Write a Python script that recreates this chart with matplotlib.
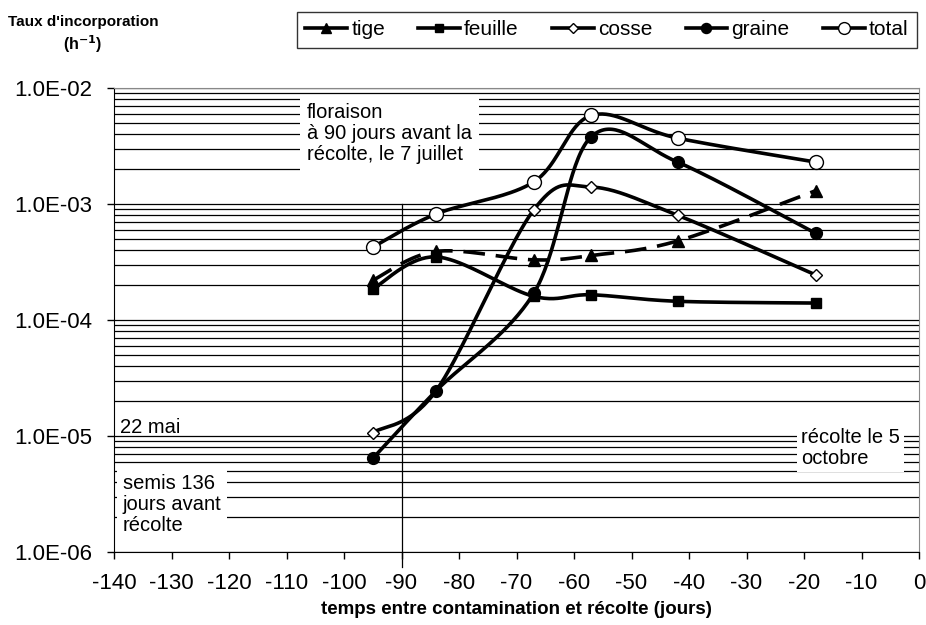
import numpy as np
import matplotlib
matplotlib.use("Agg")
import matplotlib.pyplot as plt
from matplotlib.lines import Line2D
from matplotlib.ticker import FixedLocator, FuncFormatter, LogLocator, NullFormatter

plt.rcParams['font.family'] = ['Liberation Sans', 'DejaVu Sans']
plt.rcParams['axes.unicode_minus'] = False

# ---- data ----
jours = [-95, -84, -67, -57, -42, -18]
tige = [2.2e-4, 3.9e-4, 3.3e-4, 3.6e-4, 4.8e-4, 1.3e-3]
feuille = [1.85e-4, 3.5e-4, 1.6e-4, 1.65e-4, 1.45e-4, 1.4e-4]
cosse = [1.07e-5, 2.45e-5, 8.9e-4, 1.4e-3, 8.0e-4, 2.45e-4]
graine = [6.4e-6, 2.45e-5, 1.7e-4, 3.8e-3, 2.3e-3, 5.6e-4]
total = [4.25e-4, 8.2e-4, 1.55e-3, 5.8e-3, 3.7e-3, 2.3e-3]
noms = ['tige', 'feuille', 'cosse', 'graine', 'total']
xticks = list(range(-140, 1, 10))
yticks = [1e-6, 1e-5, 1e-4, 1e-3, 1e-2]

# pixel scale used for Excel-like smoothing
SX, SY = 5.75, 116.0

def smooth(x, y, n=40):
    px = np.array(x, float) * SX
    py = np.log10(np.array(y, float)) * SY
    P = np.column_stack([px, py])
    P = np.vstack([P[0], P, P[-1]])
    out = []
    for i in range(1, len(P) - 2):
        p0, p1, p2, p3 = P[i - 1], P[i], P[i + 1], P[i + 2]
        c1 = p1 + (p2 - p0) / 6.0
        c2 = p2 - (p3 - p1) / 6.0
        t = np.linspace(0, 1, n)[:, None]
        seg = ((1 - t) ** 3) * p1 + 3 * ((1 - t) ** 2) * t * c1 + 3 * (1 - t) * t ** 2 * c2 + t ** 3 * p2
        out.append(seg if i == 1 else seg[1:])
    out = np.vstack(out)
    return out[:, 0] / SX, 10 ** (out[:, 1] / SY)

fig = plt.figure(figsize=(9.26, 6.25), dpi=100)
ax = fig.add_axes([114 / 926, 1 - 552 / 625, (919 - 114) / 926, (552 - 88) / 625])
ax.set_yscale('log')
ax.set_xlim(-140, 0)
ax.set_ylim(1e-6, 1e-2)

ax.yaxis.set_major_locator(FixedLocator(yticks))
ax.yaxis.set_minor_locator(LogLocator(base=10, subs=np.arange(2, 10)))
ax.yaxis.set_minor_formatter(NullFormatter())
ax.yaxis.set_major_formatter(FuncFormatter(lambda v, p: '1.0E-%02d' % int(round(-np.log10(v)))))
ax.set_xticks(xticks)
ax.grid(True, axis='y', which='both', color='black', linewidth=0.9)
ax.set_axisbelow(True)
ax.tick_params(axis='y', which='minor', length=0)
ax.tick_params(axis='both', which='major', direction='out', length=5, width=1,
               labelsize=16, colors='black')
ax.tick_params(axis='y', which='major', pad=11)
ax.tick_params(axis='x', which='major', pad=10)
for s in ['top', 'right']:
    ax.spines[s].set_color('#888888')
for s in ['left', 'bottom']:
    ax.spines[s].set_color('black')

# vertical line at -90
ax.plot([-90, -90], [-0.032, 0.75], color='black', lw=0.9,
        transform=ax.get_xaxis_transform(), clip_on=False, zorder=1.5)

styles = {
    'tige': dict(marker='^', mfc='black', mec='black', ms=9, ls=(0, (6, 3))),
    'feuille': dict(marker='s', mfc='black', mec='black', ms=7.5, ls='-'),
    'cosse': dict(marker='D', mfc='white', mec='black', ms=6.5, ls='-'),
    'graine': dict(marker='o', mfc='black', mec='black', ms=8.5, ls='-'),
    'total': dict(marker='o', mfc='white', mec='black', ms=10, ls='-'),
}
series = {'tige': tige, 'feuille': feuille, 'cosse': cosse, 'graine': graine, 'total': total}
for k in noms:
    st = styles[k]
    xs, ys = smooth(jours, series[k])
    ax.plot(xs, ys, color='black', lw=2.6, ls=st['ls'], zorder=3, solid_capstyle='butt')
    ax.plot(jours, series[k], ls='none', marker=st['marker'], mfc=st['mfc'], mec=st['mec'],
            ms=st['ms'], mew=1.0, zorder=4)

# annotations
fs = 14.5
ax.text(-106.4, 0.967, 'floraison\nà 90 jours avant la\nrécolte, le 7 juillet', transform=ax.get_xaxis_transform(),
        fontsize=fs, va='top', ha='left', linespacing=1.12, zorder=2.5,
        bbox=dict(facecolor='white', edgecolor='none', pad=5))
ax.text(-139, 0.99e-5, '22 mai', fontsize=fs, va='bottom', ha='left', zorder=2.5)
ax.text(-138.5, 4.75e-6, 'semis 136\njours avant\nrécolte', fontsize=fs, va='top', ha='left',
        linespacing=1.16, zorder=2.5, bbox=dict(facecolor='white', edgecolor='none', pad=4))
ax.text(-20.5, 1.17e-5, 'récolte le 5\noctobre', fontsize=fs, va='top', ha='left',
        linespacing=1.12, zorder=2.5, bbox=dict(facecolor='white', edgecolor='none', pad=3))

ax.set_xlabel('temps entre contamination et récolte (jours)', fontsize=13.5, fontweight='bold', labelpad=5)
tfam = ['Liberation Sans Narrow', 'Liberation Sans', 'DejaVu Sans']
fig.text(83 / 926, 1 - 22 / 625, "Taux d'incorporation", fontsize=11, fontweight='bold',
         ha='center', va='center', family=tfam)
fig.text(83 / 926, 1 - 44 / 625, "(h$^{\\mathbf{-1}}$)", fontsize=11.5, fontweight='bold',
         ha='center', va='center', family=tfam)

handles = []
for k in noms:
    st = styles[k]
    handles.append(Line2D([0], [0], color='black', lw=2.6, marker=st['marker'], mfc=st['mfc'],
                          mec=st['mec'], ms=st['ms'] * 0.85, mew=1.0))
leg = fig.legend(handles, noms, loc='upper left', bbox_to_anchor=(297 / 926, 1 - 12 / 625),
                 ncol=5, fontsize=15, frameon=True, fancybox=False, edgecolor='black',
                 handlelength=2.0, handletextpad=0.2, columnspacing=1.6, borderpad=0.4,
                 borderaxespad=0)
leg.get_frame().set_linewidth(1.0)

fig.savefig('out.png', dpi=100)
